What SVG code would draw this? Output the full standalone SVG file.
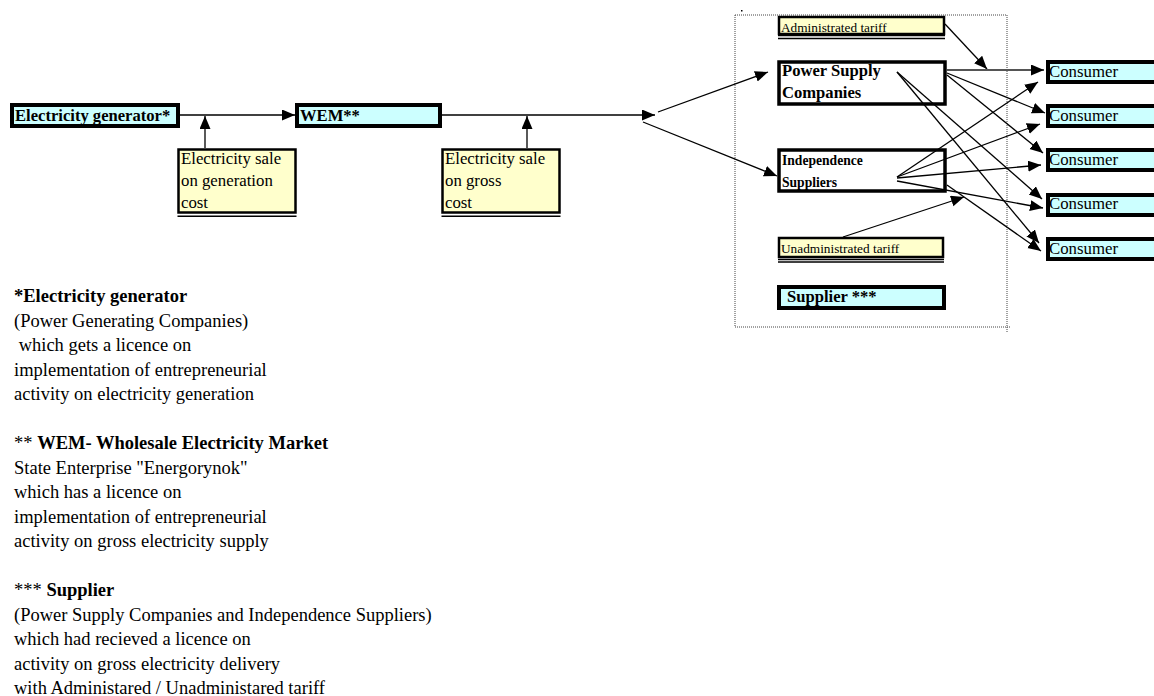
<svg xmlns="http://www.w3.org/2000/svg" width="1154" height="696" viewBox="0 0 1154 696">
<style>
text{font-family:"Liberation Serif","Times New Roman",serif;fill:#000}
.b{font-weight:bold}
.cyan{fill:#ccffff;stroke:#000;stroke-width:4}
.white{fill:#fff;stroke:#000;stroke-width:3.5}
.yel{fill:#ffffcc;stroke:#000;stroke-width:2.5}
.dbl{stroke:#000;stroke-width:1.5}
.c{fill:none;stroke:#000;stroke-width:1.3}
.g{fill:none;stroke:#555;stroke-width:2}
.dot{fill:none;stroke:#444;stroke-width:1;stroke-dasharray:1 1}
.lbl{font-size:16.8px}
.note{font-size:18.5px}
</style>
<defs>
<marker id="ah" markerUnits="userSpaceOnUse" markerWidth="14" markerHeight="12" refX="13" refY="5.5" orient="auto">
<path d="M0,0 L13,5.5 L0,11 z" fill="#000"/>
</marker>
</defs>
<rect width="1154" height="696" fill="#fff"/>

<g id="container">
<path class="dot" d="M735,15 H1007 V333 M735,15 V327 H1010"/>
<rect x="741" y="10" width="1.5" height="1.5" fill="#000"/>
</g>

<g id="generator">
<rect class="cyan" x="12" y="105" width="166" height="21"/>
<text class="b" x="15" y="121" font-size="16.6">Electricity generator*</text>
</g>
<g id="wem">
<rect class="cyan" x="297" y="105" width="143" height="21"/>
<text class="b" x="300" y="121" font-size="16.6">WEM**</text>
</g>
<g id="sale-generation">
<rect class="yel" x="178.5" y="149.5" width="117" height="63"/>
<line class="dbl" x1="177.5" y1="216.3" x2="296.5" y2="216.3"/>
<text class="lbl" x="181" y="164">Electricity sale</text>
<text class="lbl" x="181" y="186">on generation</text>
<text class="lbl" x="181" y="208">cost</text>
</g>
<g id="sale-gross">
<rect class="yel" x="442.5" y="149.5" width="117" height="63"/>
<line class="dbl" x1="441.5" y1="216.3" x2="560.5" y2="216.3"/>
<text class="lbl" x="445" y="164">Electricity sale</text>
<text class="lbl" x="445" y="186">on gross</text>
<text class="lbl" x="445" y="208">cost</text>
</g>

<g id="admin-tariff">
<rect class="yel" x="779" y="17" width="165" height="17" stroke-width="1.5"/>
<line class="dbl" x1="778" y1="35.5" x2="945" y2="35.5" stroke-width="2"/>
<line class="dbl" x1="778" y1="38.5" x2="945" y2="38.5"/>
<text x="781" y="32" font-size="13.3">Administrated tariff</text>
</g>
<g id="psc">
<rect class="white" x="779" y="62" width="166" height="42"/>
<text class="b" x="782" y="76" font-size="16.6">Power Supply</text>
<text class="b" x="782" y="98" font-size="16.6">Companies</text>
</g>
<g id="is">
<rect class="white" x="779" y="150" width="166" height="41"/>
<text class="b" x="782" y="165" font-size="13.6">Independence</text>
<text class="b" x="782" y="187" font-size="13.6">Suppliers</text>
</g>
<g id="unadmin-tariff">
<rect class="yel" x="779" y="238" width="164" height="19" stroke-width="2"/>
<line class="dbl" x1="778" y1="259.5" x2="944" y2="259.5"/>
<line class="dbl" x1="778" y1="262" x2="944" y2="262"/>
<text x="781" y="253" font-size="13.3">Unadministrated tariff</text>
</g>
<g id="supplier">
<rect class="cyan" x="779" y="287" width="165" height="21"/>
<text class="b" x="787" y="302" font-size="16.6">Supplier ***</text>
</g>

<g id="consumer1"><rect class="cyan" x="1048" y="62" width="120" height="20"/><text class="lbl" x="1049" y="77">Consumer</text></g>
<g id="consumer2"><rect class="cyan" x="1048" y="106" width="120" height="20"/><text class="lbl" x="1049" y="121">Consumer</text></g>
<g id="consumer3"><rect class="cyan" x="1048" y="150" width="120" height="20"/><text class="lbl" x="1049" y="165">Consumer</text></g>
<g id="consumer4"><rect class="cyan" x="1048" y="195" width="120" height="20"/><text class="lbl" x="1049" y="209">Consumer</text></g>
<g id="consumer5"><rect class="cyan" x="1048" y="239" width="120" height="20"/><text class="lbl" x="1049" y="254">Consumer</text></g>

<g id="connectors">
<line class="c" x1="180" y1="115" x2="295" y2="115" marker-end="url(#ah)"/>
<line class="c" x1="205" y1="148" x2="205" y2="116" marker-end="url(#ah)"/>
<line class="c" x1="442" y1="115" x2="655" y2="115" marker-end="url(#ah)"/>
<line class="c" x1="527" y1="148" x2="527" y2="116" marker-end="url(#ah)"/>
<line class="c" x1="658" y1="112" x2="768" y2="72" marker-end="url(#ah)"/>
<line class="c" x1="643" y1="122" x2="777" y2="176" marker-end="url(#ah)"/>
<line class="c" x1="945" y1="24" x2="987" y2="69" marker-end="url(#ah)"/>
<line class="g" x1="947" y1="70" x2="1044" y2="70" marker-end="url(#ah)"/>
<line class="c" x1="947" y1="73" x2="1045" y2="113" marker-end="url(#ah)"/>
<line class="c" x1="947" y1="75" x2="1043" y2="153" marker-end="url(#ah)"/>
<line class="c" x1="897" y1="72" x2="1042" y2="199" marker-end="url(#ah)"/>
<line class="c" x1="897" y1="72" x2="1039" y2="243" marker-end="url(#ah)"/>
<line class="c" x1="897" y1="177" x2="1038" y2="82" marker-end="url(#ah)"/>
<line class="c" x1="897" y1="177" x2="1040" y2="124" marker-end="url(#ah)"/>
<line class="c" x1="897" y1="178" x2="1041" y2="165" marker-end="url(#ah)"/>
<line class="c" x1="897" y1="181" x2="1043" y2="208" marker-end="url(#ah)"/>
<line class="c" x1="947" y1="185" x2="1041" y2="251" marker-end="url(#ah)"/>
<line class="c" x1="843" y1="237" x2="964" y2="197" marker-end="url(#ah)"/>
</g>

<g id="notes" class="note">
<text class="b note" x="14" y="302">*Electricity generator</text>
<text class="note" x="14" y="326.5">(Power Generating Companies)</text>
<text class="note" x="14" y="351" xml:space="preserve"> which gets a licence on</text>
<text class="note" x="14" y="375.5">implementation of entrepreneurial</text>
<text class="note" x="14" y="400">activity on electricity generation</text>
<text class="note" x="14" y="449">** <tspan class="b">WEM- Wholesale Electricity Market</tspan></text>
<text class="note" x="14" y="473.5">State Enterprise "Energorynok"</text>
<text class="note" x="14" y="498">which has a licence on</text>
<text class="note" x="14" y="522.5">implementation of entrepreneurial</text>
<text class="note" x="14" y="547">activity on gross electricity supply</text>
<text class="note" x="14" y="596">*** <tspan class="b">Supplier</tspan></text>
<text class="note" x="14" y="620.5">(Power Supply Companies and Independence Suppliers)</text>
<text class="note" x="14" y="645">which had recieved a licence on</text>
<text class="note" x="14" y="669.5">activity on gross electricity delivery</text>
<text class="note" x="14" y="694">with Administared / Unadministared tariff</text>
</g>
</svg>
